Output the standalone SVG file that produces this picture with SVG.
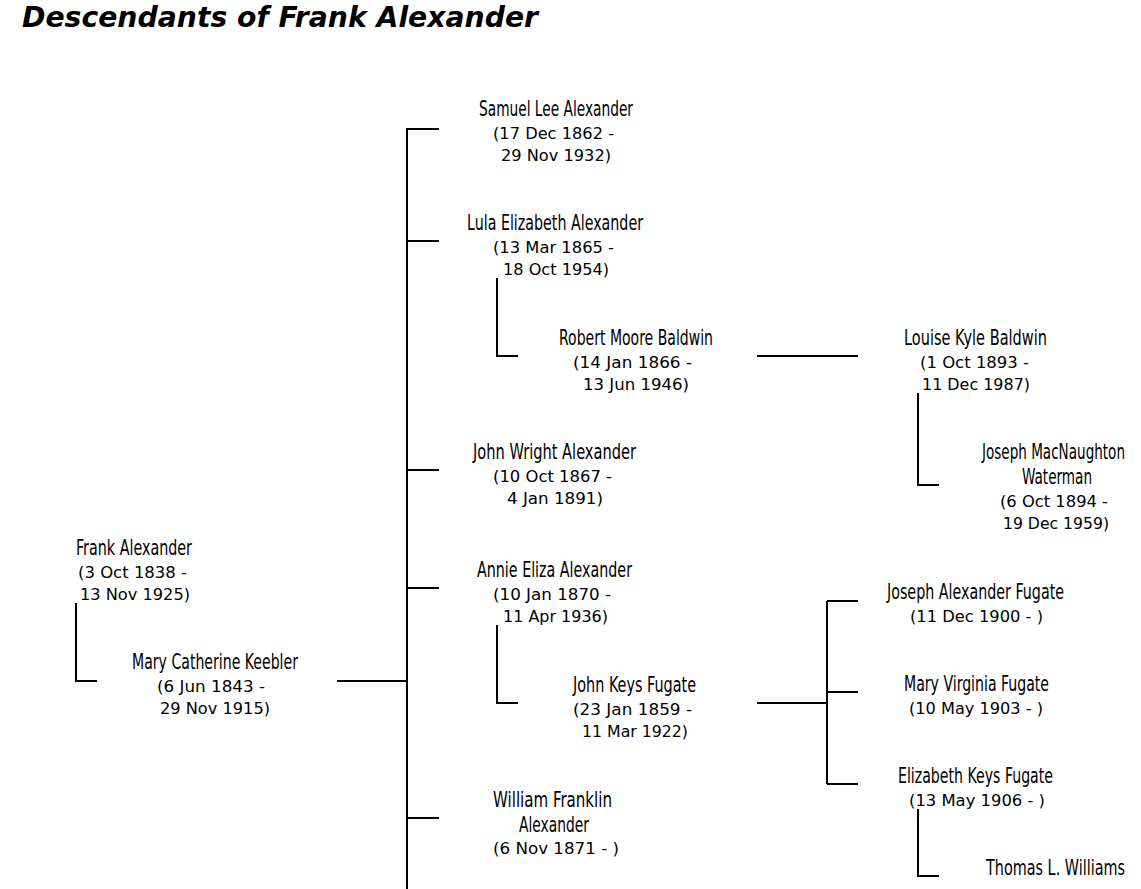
<svg xmlns="http://www.w3.org/2000/svg" width="1141" height="889" viewBox="0 0 1141 889">
<style>
.bg{fill:#ffffff}
.title{font-family:"DejaVu Sans","Liberation Sans",sans-serif;font-weight:bold;font-style:italic;font-size:29px;fill:#000}
.nm{font-family:"Liberation Sans Narrow","DejaVu Sans Condensed","Liberation Sans",sans-serif;font-size:22px;fill:#000}
.nm16{font-size:16px}
.dt{font-family:"DejaVu Sans","Liberation Sans",sans-serif;font-size:16px;fill:#000}
.ln{fill:none;stroke:#000;stroke-width:2;shape-rendering:crispEdges}
</style>
<rect class="bg" x="0" y="0" width="1141" height="889"/>
<text class="title" x="22" y="27" textLength="516" lengthAdjust="spacingAndGlyphs">Descendants of Frank Alexander</text>
<g id="connectors">
<path class="ln" d="M407 128 V889"/>
<path class="ln" d="M407 129 H439 M407 241 H439 M407 470 H439 M407 588 H439 M407 818 H439"/>
<path class="ln" d="M337 681 H407"/>
<path class="ln" d="M76 603 V681 H97"/>
<path class="ln" d="M497 278 V356 H518"/>
<path class="ln" d="M757 356 H858"/>
<path class="ln" d="M918 393 V485 H939"/>
<path class="ln" d="M497 625 V703 H518"/>
<path class="ln" d="M757 703 H827"/>
<path class="ln" d="M827 601 V784"/>
<path class="ln" d="M827 601 H858 M827 692 H858 M827 784 H858"/>
<path class="ln" d="M918 809 V876 H939"/>
</g>
<g id="frank">
<text class="nm" x="76" y="555" textLength="116" lengthAdjust="spacingAndGlyphs">Frank Alexander</text>
<text class="dt" x="78" y="578" textLength="109" lengthAdjust="spacingAndGlyphs">(3 Oct 1838 -</text>
<text class="dt" x="80" y="600" textLength="110" lengthAdjust="spacingAndGlyphs">13 Nov 1925)</text>
</g>
<g id="mary-keebler">
<text class="nm" x="132" y="669" textLength="166" lengthAdjust="spacingAndGlyphs">Mary Catherine Keebler</text>
<text class="dt" x="157" y="692" textLength="108" lengthAdjust="spacingAndGlyphs">(6 Jun 1843 -</text>
<text class="dt" x="160" y="714" textLength="110" lengthAdjust="spacingAndGlyphs">29 Nov 1915)</text>
</g>
<g id="samuel">
<text class="nm" x="479" y="116" textLength="154" lengthAdjust="spacingAndGlyphs">Samuel Lee Alexander</text>
<text class="dt" x="493" y="139" textLength="121" lengthAdjust="spacingAndGlyphs">(17 Dec 1862 -</text>
<text class="dt" x="501" y="161" textLength="110" lengthAdjust="spacingAndGlyphs">29 Nov 1932)</text>
</g>
<g id="lula">
<text class="nm" x="467" y="230" textLength="176" lengthAdjust="spacingAndGlyphs">Lula Elizabeth Alexander</text>
<text class="dt" x="493" y="253" textLength="121" lengthAdjust="spacingAndGlyphs">(13 Mar 1865 -</text>
<text class="dt" x="503" y="275" textLength="106" lengthAdjust="spacingAndGlyphs">18 Oct 1954)</text>
</g>
<g id="robert">
<text class="nm" x="559" y="345" textLength="154" lengthAdjust="spacingAndGlyphs">Robert Moore Baldwin</text>
<text class="dt" x="573" y="368" textLength="119" lengthAdjust="spacingAndGlyphs">(14 Jan 1866 -</text>
<text class="dt" x="583" y="390" textLength="106" lengthAdjust="spacingAndGlyphs">13 Jun 1946)</text>
</g>
<g id="louise">
<text class="nm" x="904" y="345" textLength="143" lengthAdjust="spacingAndGlyphs">Louise Kyle Baldwin</text>
<text class="dt" x="920" y="368" textLength="109" lengthAdjust="spacingAndGlyphs">(1 Oct 1893 -</text>
<text class="dt" x="922" y="390" textLength="108" lengthAdjust="spacingAndGlyphs">11 Dec 1987)</text>
</g>
<g id="joseph-waterman">
<text class="nm nm16" transform="translate(982 459) scale(1 1.375)" x="0" y="0" textLength="143" lengthAdjust="spacingAndGlyphs">Joseph MacNaughton</text>
<text class="nm" x="1022" y="484" textLength="70" lengthAdjust="spacingAndGlyphs">Waterman</text>
<text class="dt" x="1000" y="507" textLength="108" lengthAdjust="spacingAndGlyphs">(6 Oct 1894 -</text>
<text class="dt" x="1003" y="529" textLength="106" lengthAdjust="spacingAndGlyphs">19 Dec 1959)</text>
</g>
<g id="john-wright">
<text class="nm" x="473" y="459" textLength="163" lengthAdjust="spacingAndGlyphs">John Wright Alexander</text>
<text class="dt" x="493" y="482" textLength="119" lengthAdjust="spacingAndGlyphs">(10 Oct 1867 -</text>
<text class="dt" x="507" y="504" textLength="96" lengthAdjust="spacingAndGlyphs">4 Jan 1891)</text>
</g>
<g id="annie">
<text class="nm" x="477" y="577" textLength="155" lengthAdjust="spacingAndGlyphs">Annie Eliza Alexander</text>
<text class="dt" x="493" y="600" textLength="118" lengthAdjust="spacingAndGlyphs">(10 Jan 1870 -</text>
<text class="dt" x="503" y="622" textLength="105" lengthAdjust="spacingAndGlyphs">11 Apr 1936)</text>
</g>
<g id="john-keys">
<text class="nm" x="573" y="692" textLength="123" lengthAdjust="spacingAndGlyphs">John Keys Fugate</text>
<text class="dt" x="573" y="715" textLength="119" lengthAdjust="spacingAndGlyphs">(23 Jan 1859 -</text>
<text class="dt" x="582" y="737" textLength="106" lengthAdjust="spacingAndGlyphs">11 Mar 1922)</text>
</g>
<g id="joseph-fugate">
<text class="nm" x="887" y="599" textLength="177" lengthAdjust="spacingAndGlyphs">Joseph Alexander Fugate</text>
<text class="dt" x="910" y="622" textLength="133" lengthAdjust="spacingAndGlyphs">(11 Dec 1900 - )</text>
</g>
<g id="mary-virginia">
<text class="nm" x="904" y="691" textLength="145" lengthAdjust="spacingAndGlyphs">Mary Virginia Fugate</text>
<text class="dt" x="909" y="714" textLength="134" lengthAdjust="spacingAndGlyphs">(10 May 1903 - )</text>
</g>
<g id="elizabeth">
<text class="nm" x="898" y="783" textLength="155" lengthAdjust="spacingAndGlyphs">Elizabeth Keys Fugate</text>
<text class="dt" x="909" y="806" textLength="136" lengthAdjust="spacingAndGlyphs">(13 May 1906 - )</text>
</g>
<g id="thomas">
<text class="nm nm16" transform="translate(986 875) scale(1 1.375)" x="0" y="0" textLength="139" lengthAdjust="spacingAndGlyphs">Thomas L. Williams</text>
</g>
<g id="william">
<text class="nm" x="493" y="807" textLength="119" lengthAdjust="spacingAndGlyphs">William Franklin</text>
<text class="nm" x="519" y="832" textLength="70" lengthAdjust="spacingAndGlyphs">Alexander</text>
<text class="dt" x="493" y="854" textLength="126" lengthAdjust="spacingAndGlyphs">(6 Nov 1871 - )</text>
</g>
</svg>
